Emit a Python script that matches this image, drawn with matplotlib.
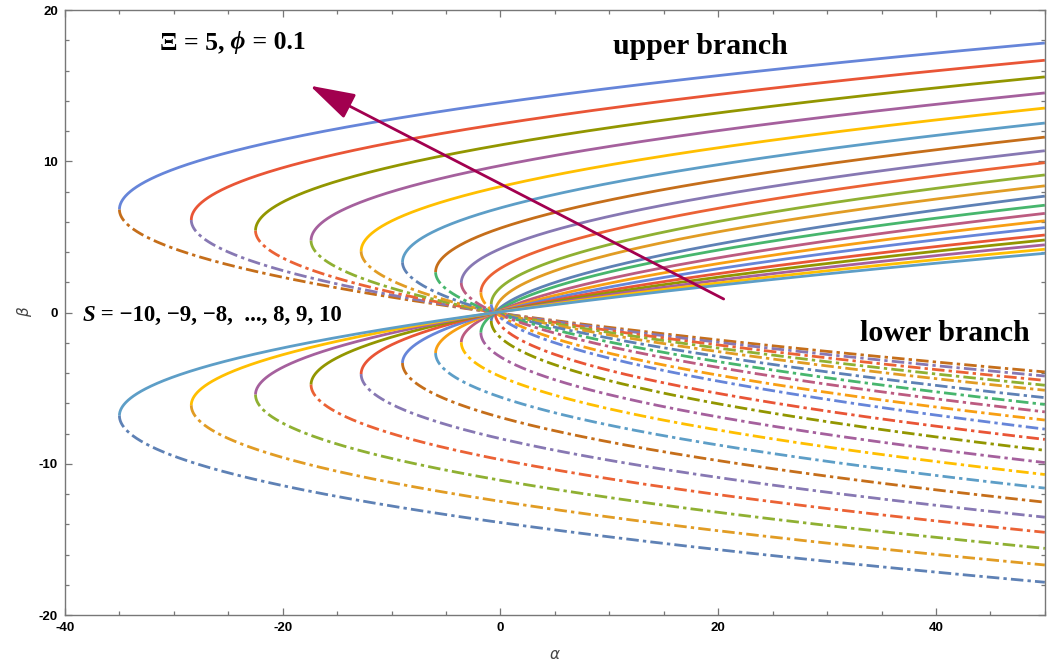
import numpy as np
import matplotlib
matplotlib.use("Agg")
import matplotlib.pyplot as plt
from matplotlib.ticker import MultipleLocator

# turning points of the curves whose nose sits above the axis (outermost first)
VERTEX_ALPHA = [-35.0, -28.4, -22.5, -17.4, -12.8, -9.0, -5.96, -3.6, -1.8, -0.85]
VERTEX_BETA = [6.81, 6.12, 5.42, 4.76, 4.06, 3.33, 2.67, 1.96, 1.33, 0.55]
# beta of every curve at the right edge alpha = 50, top to bottom
END_BETA = [17.82, 16.68, 15.58, 14.52, 13.52, 12.53, 11.60, 10.70, 9.91, 9.10,
            8.38, 7.70, 7.10, 6.56, 6.07, 5.62, 5.13, 4.80, 4.48, 4.19, 3.92]
# point shared by every curve
PINCH = (-0.5, 0.0)
ALPHA_END = 50.0

PALETTE = ["#5E81B5", "#E19C24", "#8FB032", "#EB6235", "#8778B3",
           "#C56E1A", "#5D9EC7", "#FFBF00", "#A5609D", "#929600",
           "#E95536", "#6685D9", "#F89F13", "#BC5B80", "#47B66D"]

SERIF = ["Liberation Serif", "DejaVu Serif"]
SANS = ["Liberation Sans", "DejaVu Sans"]
plt.rcParams["axes.unicode_minus"] = False


def branch(a0, b0, b_end, through_pinch):
    """One half of a curve, from the turning point to alpha = ALPHA_END."""
    p = 0.5
    if through_pinch:
        p = np.log((PINCH[1] - b0) / (b_end - b0)) / np.log((PINCH[0] - a0) / (ALPHA_END - a0))
    s = np.linspace(0, 1, 600)
    a = a0 + (ALPHA_END - a0) * s ** 2
    b = b0 + (b_end - b0) * s ** (2 * p)
    return a, b


def curves():
    n = len(END_BETA)
    out = []
    for k in range(n):
        if k < n // 2:
            a0, b0 = VERTEX_ALPHA[k], VERTEX_BETA[k]
            up = branch(a0, b0, END_BETA[k], False)
            lo = branch(a0, b0, -END_BETA[n - 1 - k], True)
        elif k == n // 2:
            up = branch(PINCH[0], PINCH[1], END_BETA[k], False)
            lo = branch(PINCH[0], PINCH[1], -END_BETA[k], False)
        else:
            m = n - 1 - k
            a0, b0 = VERTEX_ALPHA[m], -VERTEX_BETA[m]
            up = branch(a0, b0, END_BETA[k], True)
            lo = branch(a0, b0, -END_BETA[m], False)
        out.append((up, lo, PALETTE[(11 - k) % 15], PALETTE[(5 - k) % 15]))
    return out


def chain_text(ax, x, y, parts, size):
    t = ax.text(x, y, parts[0][0], fontstyle=parts[0][1], fontweight="bold",
                family=SERIF, fontsize=size, va="baseline", ha="left")
    for s, st in parts[1:]:
        t = ax.annotate(s, xy=(1, 0), xycoords=t, fontstyle=st, fontweight="bold",
                        family=SERIF, fontsize=size, va="bottom", ha="left")


fig = plt.figure(figsize=(10.48, 6.68), dpi=100)
ax = fig.add_axes([0.062, 0.079, 0.935, 0.906])

for (ua, ub), (la, lb), cs, cd in curves():
    ax.plot(ua, ub, color=cs, lw=2.0, solid_capstyle="butt")
    ax.plot(la, lb, color=cd, lw=2.0, dashes=(4.5, 1.5, 1.2, 1.5))

ax.annotate("", xy=(-17.5, 15.0), xytext=(20.5, 0.9),
            arrowprops=dict(arrowstyle="-|>,head_length=1.4,head_width=0.42",
                            mutation_scale=20, color="#A2004F", lw=2.0,
                            shrinkA=0, shrinkB=0))

chain_text(ax, -31.3, 17.4, [("Ξ = 5,", "normal"), (" ϕ", "italic"), (" = 0.1", "normal")], 18.5)
chain_text(ax, 10.3, 17.1, [("upper branch", "normal")], 21.5)
chain_text(ax, 33.0, -1.85, [("lower branch", "normal")], 21.5)
chain_text(ax, -38.4, -0.55, [("S", "italic"), (" = −10, −9, −8,  ..., 8, 9, 10", "normal")], 16.5)

ax.set_xlim(-40, 50)
ax.set_ylim(-20, 20)
ax.set_xticks([-40, -20, 0, 20, 40])
ax.set_yticks([-20, -10, 0, 10, 20])
ax.xaxis.set_minor_locator(MultipleLocator(5))
ax.yaxis.set_minor_locator(MultipleLocator(2))
ax.tick_params(which="both", direction="in", top=True, right=True, color="#777777", width=0.9)
ax.tick_params(which="major", length=5, pad=5)
ax.tick_params(which="minor", length=3)
for lab in ax.get_xticklabels() + ax.get_yticklabels():
    lab.set_family(SANS)
    lab.set_fontweight("bold")
    lab.set_fontsize(9.5)
for sp in ax.spines.values():
    sp.set_color("#777777")
    sp.set_linewidth(1.0)

ax.set_xlabel("α", fontstyle="italic", fontsize=11, color="#444444", labelpad=9)
ax.set_ylabel("β", fontstyle="italic", fontsize=11, color="#444444", labelpad=5)

fig.savefig("out.png", dpi=100)
